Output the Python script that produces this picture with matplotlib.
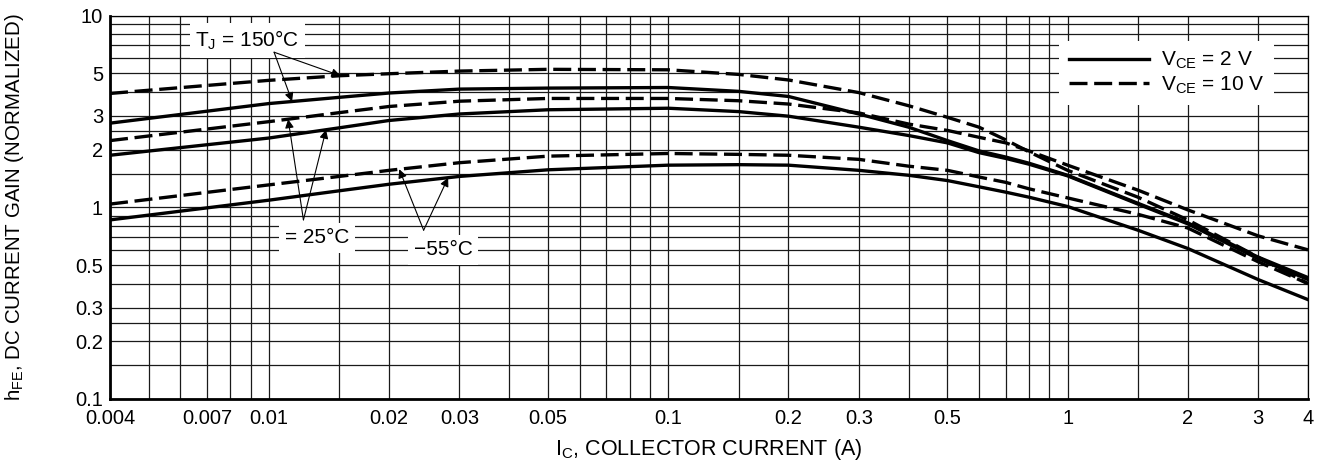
import matplotlib
matplotlib.use("Agg")
import matplotlib.pyplot as plt
from matplotlib.ticker import FixedLocator, FixedFormatter, NullFormatter
import numpy as np

plt.rcParams['font.family'] = ['Liberation Sans', 'DejaVu Sans']
plt.rcParams['mathtext.default'] = 'regular'

# collector current (A)
ic = [0.004, 0.01, 0.015, 0.02, 0.03, 0.05, 0.1, 0.15, 0.2, 0.3, 0.4,
      0.5, 0.6, 0.7, 0.8, 1, 1.5, 2, 3, 4]

# normalized hFE, VCE = 2 V (solid)
h150_2v = [2.75, 3.48, 3.75, 3.95, 4.14, 4.19, 4.22, 4.03, 3.79, 3.07, 2.62,
           2.23, 1.97, 1.83, 1.70, 1.47, 1.05, 0.83, 0.55, 0.43]
h25_2v = [1.87, 2.30, 2.60, 2.84, 3.07, 3.23, 3.29, 3.16, 2.99, 2.62, 2.37,
          2.17, 1.93, 1.80, 1.68, 1.46, 1.04, 0.82, 0.54, 0.42]
hm55_2v = [0.86, 1.09, 1.22, 1.32, 1.45, 1.57, 1.66, 1.67, 1.66, 1.56, 1.47,
           1.38, 1.28, 1.20, 1.13, 1.01, 0.76, 0.61, 0.42, 0.33]

# normalized hFE, VCE = 10 V (dashed)
h150_10v = [3.93, 4.60, 4.86, 4.98, 5.14, 5.25, 5.22, 4.94, 4.62, 3.97, 3.39,
            2.95, 2.62, 2.25, 1.95, 1.56, 1.13, 0.86, 0.55, 0.40]
h25_10v = [2.23, 2.80, 3.12, 3.36, 3.58, 3.70, 3.70, 3.60, 3.46, 3.11, 2.72,
           2.52, 2.32, 2.17, 1.97, 1.66, 1.23, 0.97, 0.71, 0.60]
hm55_10v = [1.04, 1.31, 1.45, 1.56, 1.71, 1.85, 1.91, 1.89, 1.87, 1.78, 1.64,
            1.56, 1.44, 1.35, 1.25, 1.12, 0.92, 0.78, 0.52, 0.40]

x_major = [0.004, 0.007, 0.01, 0.02, 0.03, 0.05, 0.1, 0.2, 0.3, 0.5, 1, 2, 3, 4]
x_minor = [0.005, 0.006, 0.008, 0.009, 0.015, 0.04, 0.06, 0.07, 0.08, 0.09,
           0.15, 0.4, 0.6, 0.7, 0.8, 0.9, 1.5]
y_major = [0.1, 0.2, 0.3, 0.5, 1, 2, 3, 5, 10]
y_minor = [0.15, 0.25, 0.4, 0.6, 0.7, 0.8, 0.9, 1.5, 2.5, 4, 6, 7, 8, 9]

FS = 15


def on_curve(x, ys):
    # point on a curve (log-log interpolation) for the arrow tips
    return 10 ** np.interp(np.log10(x), np.log10(ic), np.log10(ys))


fig = plt.figure(figsize=(13.29, 4.66), dpi=100)
ax = fig.add_axes([0.0828, 0.1438, 0.9014, 0.8225])
ax.set_xscale('log')
ax.set_yscale('log')
ax.set_xlim(0.004, 4)
ax.set_ylim(0.1, 10)

lw = 2.4
dash = (5.4, 2.0)
ax.plot(ic, h150_2v, color='black', lw=lw)
ax.plot(ic, h25_2v, color='black', lw=lw)
ax.plot(ic, hm55_2v, color='black', lw=lw, label='V$_{CE}$ = 2 V')
ax.plot(ic, h150_10v, color='black', lw=lw, dashes=dash)
ax.plot(ic, h25_10v, color='black', lw=lw, dashes=dash)
ax.plot(ic, hm55_10v, color='black', lw=lw, dashes=dash, label='V$_{CE}$ = 10 V')

# grid / ticks
ax.xaxis.set_major_locator(FixedLocator(x_major))
ax.xaxis.set_major_formatter(FixedFormatter(['%g' % v for v in x_major]))
ax.xaxis.set_minor_locator(FixedLocator(x_minor))
ax.xaxis.set_minor_formatter(NullFormatter())
ax.yaxis.set_major_locator(FixedLocator(y_major))
ax.yaxis.set_major_formatter(FixedFormatter(['%g' % v for v in y_major]))
ax.yaxis.set_minor_locator(FixedLocator(y_minor))
ax.yaxis.set_minor_formatter(NullFormatter())
ax.grid(True, which='both', color='#1a1a1a', lw=0.9)
ax.set_axisbelow(True)
ax.tick_params(which='both', length=0, labelsize=14.5)
ax.tick_params(axis='x', pad=7)
ax.tick_params(axis='y', pad=5)

for s in ['left', 'bottom']:
    ax.spines[s].set_linewidth(2.0)
for s in ['top', 'right']:
    ax.spines[s].set_linewidth(0.9)

ax.set_xlabel('I$_C$, COLLECTOR CURRENT (A)', fontsize=15.5)
ax.set_ylabel('h$_{FE}$, DC CURRENT GAIN (NORMALIZED)', fontsize=14.8)
ax.xaxis.set_label_coords(0.5, -0.1)
ax.yaxis.set_label_coords(-0.07, 0.5)

# legend
leg = ax.legend(loc='upper right', bbox_to_anchor=(0.972, 0.935),
                frameon=True, fancybox=False, framealpha=1, edgecolor='none',
                fontsize=FS, handlelength=3.85, handletextpad=0.6,
                borderpad=0.45, labelspacing=0.15, borderaxespad=0)
leg.get_frame().set_linewidth(0)

# temperature labels and arrows
box = dict(facecolor='white', edgecolor='none', pad=4)
arrow = dict(arrowstyle='-|>', color='black', lw=0.8, mutation_scale=13,
             shrinkA=0, shrinkB=0)

ax.text(0.00882, 7.42, 'T$_J$ = 150°C', fontsize=FS, ha='center',
        va='center', bbox=box, zorder=4)
for xt, ys in [(0.0151, h150_10v), (0.01143, h150_2v)]:
    ax.annotate('', xy=(xt, on_curve(xt, ys)), xytext=(0.0103, 6.45),
                arrowprops=arrow, zorder=5)

ax.text(0.0132, 0.695, '= 25°C', fontsize=FS, ha='center', va='center',
        bbox=box, zorder=4)
for xt, ys in [(0.01117, h25_10v), (0.0139, h25_2v)]:
    ax.annotate('', xy=(xt, on_curve(xt, ys)), xytext=(0.0122, 0.86),
                arrowprops=arrow, zorder=5)

ax.text(0.0273, 0.60, '\u221255°C', fontsize=FS, ha='center', va='center',
        bbox=box, zorder=4)
for xt, ys in [(0.0212, hm55_10v), (0.0281, hm55_2v)]:
    ax.annotate('', xy=(xt, on_curve(xt, ys)), xytext=(0.0244, 0.76),
                arrowprops=arrow, zorder=5)

fig.savefig('out.png', dpi=100)
